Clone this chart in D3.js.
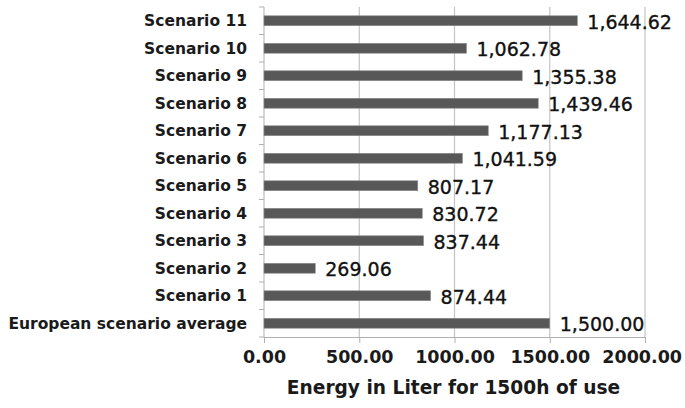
<!DOCTYPE html>
<html>
<head>
<meta charset="utf-8">
<script src="https://cdn.jsdelivr.net/npm/d3@7"></script>
<style>
  html, body { margin: 0; padding: 0; background: #fff; }
  svg { display: block; }
</style>
</head>
<body>
<div id="chart"></div>
<script>
const categories = ["Scenario 11", "Scenario 10", "Scenario 9", "Scenario 8", "Scenario 7", "Scenario 6",
  "Scenario 5", "Scenario 4", "Scenario 3", "Scenario 2", "Scenario 1", "European scenario average"];
const values = [1644.62, 1062.78, 1355.38, 1439.46, 1177.13, 1041.59,
  807.17, 830.72, 837.44, 269.06, 874.44, 1500.00];
const xTicks = [0, 500, 1000, 1500, 2000];
const xTitle = "Energy in Liter for 1500h of use";

const width = 685, height = 408;
const margin = { top: 7, right: 40, bottom: 71, left: 264 };

const data = categories.map((c, i) => ({ cat: c, value: values[i] }));

const svg = d3.select("#chart").append("svg")
  .attr("width", width)
  .attr("height", height);

const x = d3.scaleLinear().domain([0, 2000]).range([margin.left, width - margin.right]);
const y = d3.scaleBand().domain(categories).range([margin.top, height - margin.bottom])
  .paddingInner(0.64).paddingOuter(0.32);
const step = y.step();

// gridlines
svg.append("g")
  .selectAll("line")
  .data(xTicks.filter(d => d > 0))
  .join("line")
  .attr("x1", d => x(d)).attr("x2", d => x(d))
  .attr("y1", margin.top).attr("y2", height - margin.bottom)
  .attr("stroke", "#c4c4c4")
  .attr("stroke-width", 1.2);

// bottom axis
const xAxis = svg.append("g")
  .attr("transform", `translate(0,${height - margin.bottom})`)
  .call(d3.axisBottom(x).tickValues(xTicks).tickFormat(d3.format(".2f")).tickSize(6).tickPadding(8));
xAxis.select(".domain").attr("stroke", "#b0b0b0");
xAxis.selectAll(".tick line").attr("stroke", "#b0b0b0");
xAxis.selectAll(".tick text")
  .attr("font-family", "DejaVu Sans")
  .attr("font-weight", "bold")
  .attr("font-size", 17.5)
  .attr("fill", "#1a1a1a");
// keep the last tick label inside the picture
xAxis.selectAll(".tick text").each(function () {
  const w = this.getComputedTextLength();
  const tx = +this.parentNode.getAttribute("transform").match(/translate\(([^,]+)/)[1];
  const over = tx + w / 2 - (width - 3);
  if (over > 0) d3.select(this).attr("x", -over);
});

// left axis (category boundaries as ticks)
svg.append("line")
  .attr("x1", x(0)).attr("x2", x(0))
  .attr("y1", margin.top).attr("y2", height - margin.bottom)
  .attr("stroke", "#b0b0b0");
svg.append("g")
  .selectAll("line")
  .data(d3.range(categories.length + 1))
  .join("line")
  .attr("x1", x(0) - 5).attr("x2", x(0))
  .attr("y1", i => margin.top + i * step)
  .attr("y2", i => margin.top + i * step)
  .attr("stroke", "#b0b0b0");

// category labels
svg.append("g")
  .selectAll("text")
  .data(categories)
  .join("text")
  .attr("x", x(0) - 17)
  .attr("y", d => y(d) + y.bandwidth() / 2)
  .attr("dy", "0.36em")
  .attr("text-anchor", "end")
  .attr("font-family", "DejaVu Sans")
  .attr("font-weight", "bold")
  .attr("font-size", 15.5)
  .attr("fill", "#1a1a1a")
  .text(d => d);

// bars
svg.append("g")
  .selectAll("rect")
  .data(data)
  .join("rect")
  .attr("x", x(0))
  .attr("y", d => y(d.cat))
  .attr("width", d => x(d.value) - x(0))
  .attr("height", y.bandwidth())
  .attr("fill", "#585858")
  .attr("stroke", "#8a8a8a")
  .attr("stroke-width", 0.6);

// value labels
svg.append("g")
  .selectAll("text")
  .data(data)
  .join("text")
  .attr("x", d => x(d.value) + 10)
  .attr("y", d => y(d.cat) + y.bandwidth() / 2 + 1)
  .attr("dy", "0.36em")
  .attr("font-family", "DejaVu Sans")
  .attr("font-size", 19)
  .attr("fill", "#111")
  .attr("stroke", "#111")
  .attr("stroke-width", 0.35)
  .text(d => d3.format(",.2f")(d.value));

// axis title
svg.append("text")
  .attr("x", (x(0) + x(2000)) / 2 - 1)
  .attr("y", 387)
  .attr("dy", "0.36em")
  .attr("text-anchor", "middle")
  .attr("font-family", "DejaVu Sans")
  .attr("font-weight", "bold")
  .attr("font-size", 18.6)
  .attr("fill", "#1a1a1a")
  .text(xTitle);
</script>
</body>
</html>
